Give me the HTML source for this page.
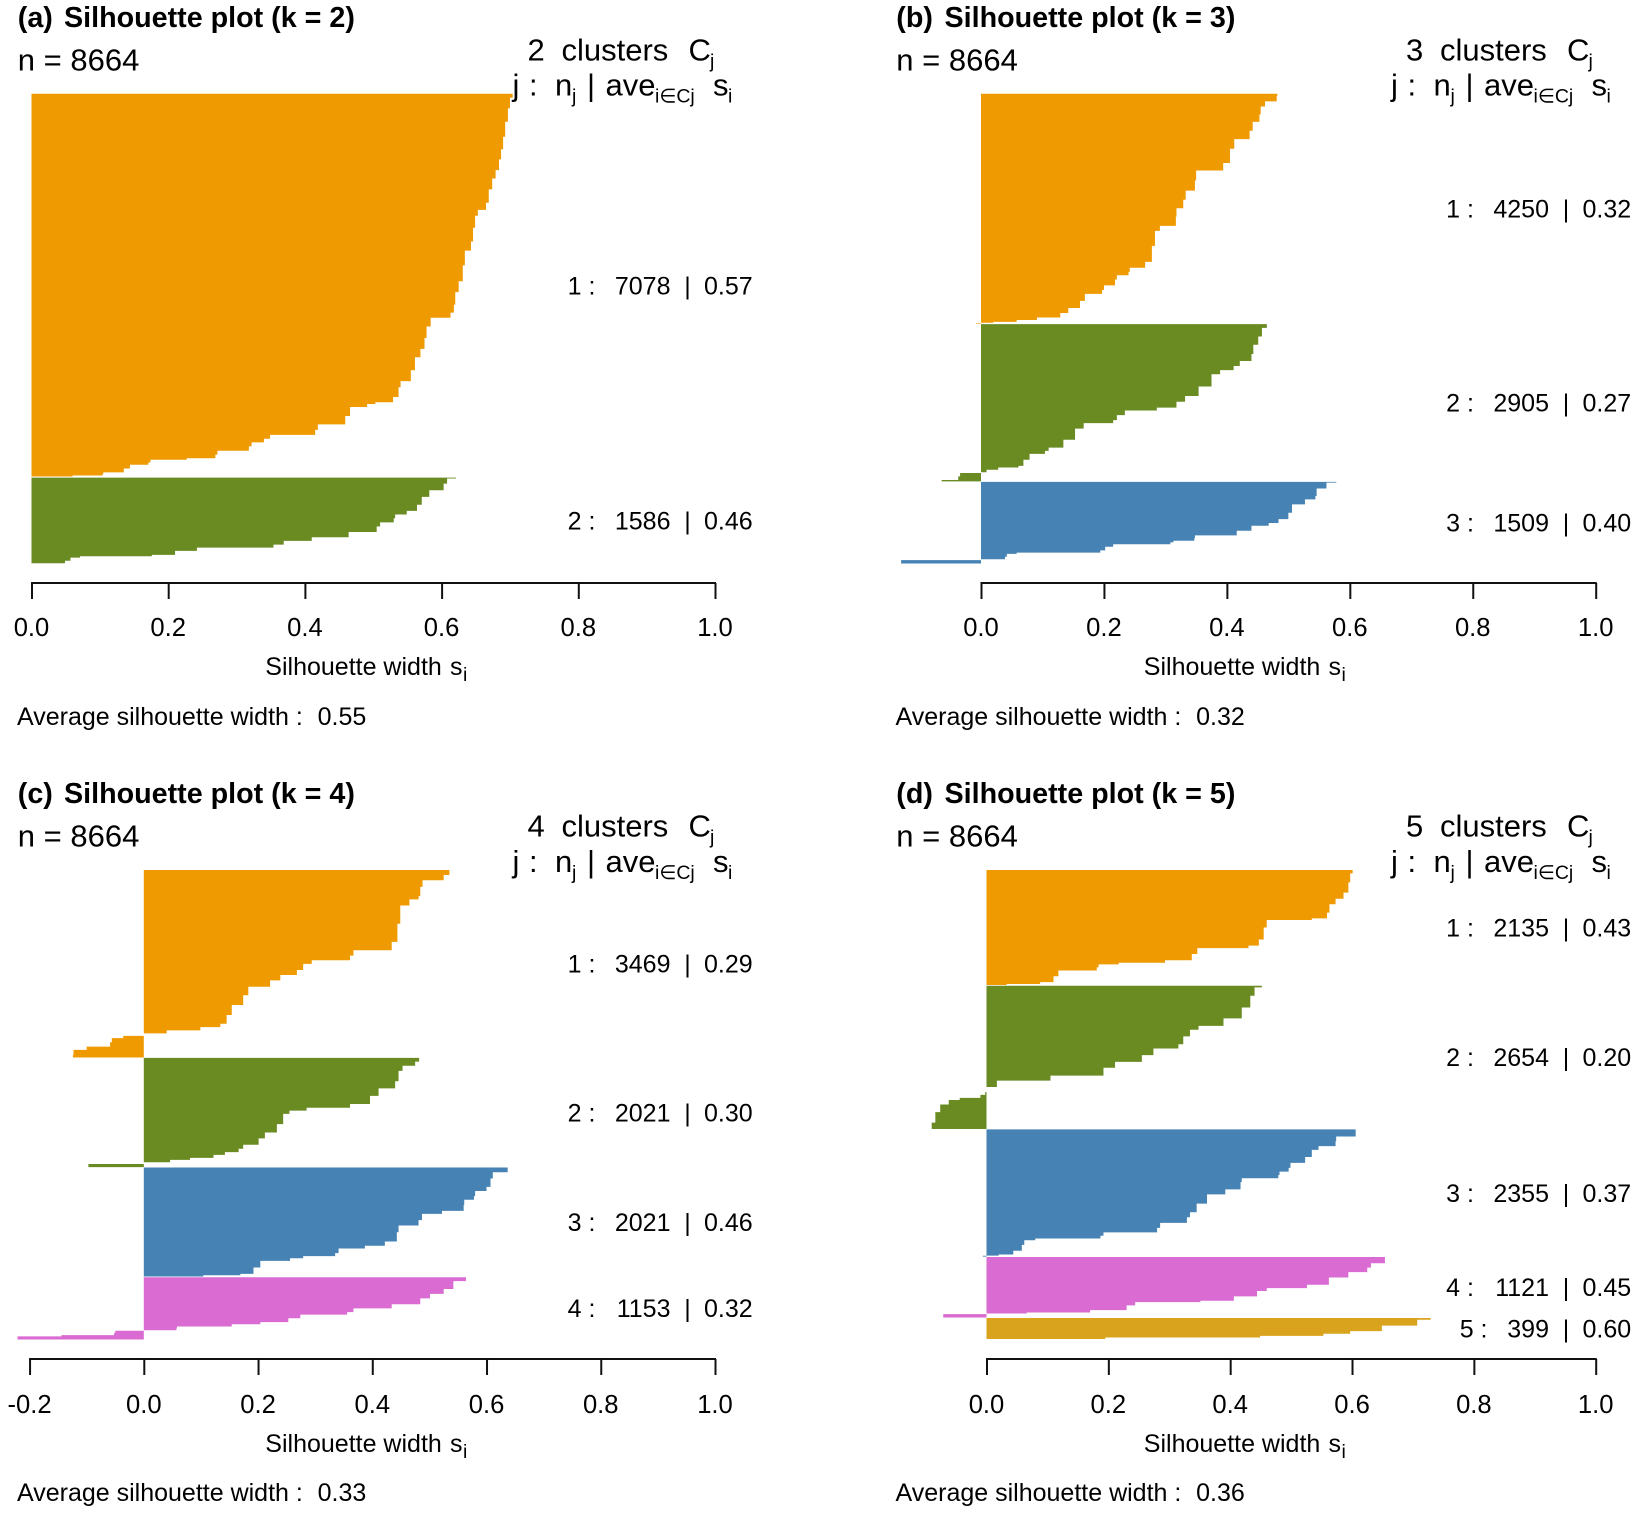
<!DOCTYPE html>
<html lang="en">
<head>
<meta charset="utf-8">
<title>Silhouette plots for k = 2 to 5</title>
<style>
html,body{margin:0;padding:0;background:#fff;}
svg{display:block;}
text{font-family:"Liberation Sans",sans-serif;fill:#000;}
.title{font-size:28.7px;font-weight:bold;}
.big{font-size:31px;}
.sub{font-size:19.5px;}
.mid{font-size:25px;}
.tick{font-size:25.6px;}
</style>
</head>
<body>
<svg id="figure" width="1638" height="1513" viewBox="0 0 1638 1513" xmlns="http://www.w3.org/2000/svg">
  <g id="marks-a"></g>
  <g id="marks-b"></g>
  <g id="marks-c"></g>
  <g id="marks-d"></g>

  <g>
    <text class="title" x="17.8" y="27">(a)<tspan x="64">Silhouette plot (k = 2)</tspan></text>
    <text class="big" x="17.8" y="70.5">n = 8664</text>
    <text class="big" x="527.5" y="60.5">2<tspan x="561.5">clusters</tspan><tspan x="688.5">C</tspan><tspan class="sub" x="710" dy="7">j</tspan></text>
    <text class="big" x="512.5" y="95.5">j<tspan x="529">:</tspan><tspan x="555">n</tspan><tspan class="sub" x="572" dy="7">j</tspan><tspan x="587" dy="-7">|</tspan><tspan x="605.5">ave</tspan><tspan class="sub" x="655" dy="7">i∈Cj</tspan><tspan x="713" dy="-7">s</tspan><tspan class="sub" x="728" dy="7">i</tspan></text>
    <text class="mid" x="265.3" y="675">Silhouette width<tspan x="450">s</tspan><tspan class="sub" x="463" dy="6">i</tspan></text>
    <text class="mid" x="17" y="725">Average silhouette width :<tspan x="317.6">0.55</tspan></text>
  </g>

  <g transform="translate(878.5,0)">
    <text class="title" x="17.8" y="27">(b)<tspan x="66">Silhouette plot (k = 3)</tspan></text>
    <text class="big" x="17.8" y="70.5">n = 8664</text>
    <text class="big" x="527.5" y="60.5">3<tspan x="561.5">clusters</tspan><tspan x="688.5">C</tspan><tspan class="sub" x="710" dy="7">j</tspan></text>
    <text class="big" x="512.5" y="95.5">j<tspan x="529">:</tspan><tspan x="555">n</tspan><tspan class="sub" x="572" dy="7">j</tspan><tspan x="587" dy="-7">|</tspan><tspan x="605.5">ave</tspan><tspan class="sub" x="655" dy="7">i∈Cj</tspan><tspan x="713" dy="-7">s</tspan><tspan class="sub" x="728" dy="7">i</tspan></text>
    <text class="mid" x="265.3" y="675">Silhouette width<tspan x="450">s</tspan><tspan class="sub" x="463" dy="6">i</tspan></text>
    <text class="mid" x="17" y="725">Average silhouette width :<tspan x="317.6">0.32</tspan></text>
  </g>

  <g transform="translate(0,776)">
    <text class="title" x="17.8" y="27">(c)<tspan x="64">Silhouette plot (k = 4)</tspan></text>
    <text class="big" x="17.8" y="70.5">n = 8664</text>
    <text class="big" x="527.5" y="60.5">4<tspan x="561.5">clusters</tspan><tspan x="688.5">C</tspan><tspan class="sub" x="710" dy="7">j</tspan></text>
    <text class="big" x="512.5" y="96">j<tspan x="529">:</tspan><tspan x="555">n</tspan><tspan class="sub" x="572" dy="7">j</tspan><tspan x="587" dy="-7">|</tspan><tspan x="605.5">ave</tspan><tspan class="sub" x="655" dy="7">i∈Cj</tspan><tspan x="713" dy="-7">s</tspan><tspan class="sub" x="728" dy="7">i</tspan></text>
    <text class="mid" x="265.3" y="676">Silhouette width<tspan x="450">s</tspan><tspan class="sub" x="463" dy="6">i</tspan></text>
    <text class="mid" x="17" y="725">Average silhouette width :<tspan x="317.6">0.33</tspan></text>
  </g>

  <g transform="translate(878.5,776)">
    <text class="title" x="17.8" y="27">(d)<tspan x="66">Silhouette plot (k = 5)</tspan></text>
    <text class="big" x="17.8" y="70.5">n = 8664</text>
    <text class="big" x="527.5" y="60.5">5<tspan x="561.5">clusters</tspan><tspan x="688.5">C</tspan><tspan class="sub" x="710" dy="7">j</tspan></text>
    <text class="big" x="512.5" y="96">j<tspan x="529">:</tspan><tspan x="555">n</tspan><tspan class="sub" x="572" dy="7">j</tspan><tspan x="587" dy="-7">|</tspan><tspan x="605.5">ave</tspan><tspan class="sub" x="655" dy="7">i∈Cj</tspan><tspan x="713" dy="-7">s</tspan><tspan class="sub" x="728" dy="7">i</tspan></text>
    <text class="mid" x="265.3" y="676">Silhouette width<tspan x="450">s</tspan><tspan class="sub" x="463" dy="6">i</tspan></text>
    <text class="mid" x="17" y="725">Average silhouette width :<tspan x="317.6">0.36</tspan></text>
  </g>
</svg>

<script>
// ---- values ----
const clusterSizesA = [7078, 1586];
const clusterSizesB = [4250, 2905, 1509];
const clusterSizesC = [3469, 2021, 2021, 1153];
const clusterSizesD = [2135, 2654, 2355, 1121, 399];

const clusterAveragesA = ["0.57", "0.46"];
const clusterAveragesB = ["0.32", "0.27", "0.40"];
const clusterAveragesC = ["0.29", "0.30", "0.46", "0.32"];
const clusterAveragesD = ["0.43", "0.20", "0.37", "0.45", "0.60"];

const ticksA = [0, 0.2, 0.4, 0.6, 0.8, 1];
const ticksB = [0, 0.2, 0.4, 0.6, 0.8, 1];
const ticksC = [-0.2, 0, 0.2, 0.4, 0.6, 0.8, 1];
const ticksD = [0, 0.2, 0.4, 0.6, 0.8, 1];

// Panel (a): observation rank within cluster, silhouette width at that rank
const rankA1 = [0,148,395,641,949,1104,1319,1504,1628,1905,2121,2170,2337,2614,2842,2953,3385,3539,3785,4001,4081,4192,4402,4618,4803,4926,5283,5327,5512,5684,5709,5746,5820,6079,6128,6282,6313,6424,6449,6572,6609,6714,6745,6769,6843,6856,6979,7003,7040,7053,7078];
const silA1 = [.704,.700,.697,.693,.690,.687,.684,.679,.674,.669,.665,.653,.649,.646,.643,.634,.631,.625,.620,.618,.613,.584,.578,.575,.569,.561,.555,.540,.537,.529,.503,.491,.466,.459,.419,.415,.349,.340,.322,.318,.272,.269,.227,.174,.171,.144,.135,.105,.104,.060,0];
const rankA2 = [0,36,188,280,432,572,657,705,797,857,949,1058,1143,1192,1283,1301,1405,1447,1459,1496,1575,1586];
const silA2 = [.621,.608,.603,.582,.571,.564,.549,.532,.530,.510,.505,.464,.410,.369,.354,.242,.210,.176,.071,.057,.049,0];

// Panel (b)
const rankB1 = [0,87,198,273,489,551,818,861,1171,1388,1450,1759,1821,2100,2131,2410,2472,2596,3029,3184,3246,3339,3370,3494,3587,3667,3729,3928,3990,4113,4157,4206,4225,4238,4240,4250];
const silB1 = [.482,.481,.462,.455,.453,.442,.437,.412,.405,.394,.350,.348,.333,.329,.318,.317,.291,.283,.278,.267,.242,.240,.221,.218,.200,.197,.169,.161,.142,.129,.091,.058,.020,0,-.008,-.008];
const rankB2 = [0,135,320,443,659,702,843,855,997,1305,1348,1520,1563,1625,1736,1810,1847,2013,2259,2302,2382,2413,2597,2640,2659,2720,2751,2751,2874,2886,2905];
const silB2 = [.465,.457,.451,.443,.440,.421,.411,.389,.375,.354,.332,.318,.286,.234,.221,.215,.167,.153,.134,.110,.104,.079,.069,.061,.028,.009,0,-.034,-.037,-.064,-.064];
const rankB3 = [0,31,216,309,340,494,649,729,791,834,976,1001,1082,1094,1143,1162,1236,1298,1316,1347,1422,1440,1452,1509];
const silB3 = [.578,.562,.546,.544,.527,.506,.500,.484,.468,.440,.416,.348,.347,.313,.308,.215,.202,.194,.058,.042,.039,0,-.130,-.130];

// Panel (c)
const rankC1 = [0,184,196,428,538,551,765,1224,1438,1530,1640,1701,1774,1927,1958,2129,2190,2447,2551,2814,2876,2937,2998,3047,3090,3133,3243,3292,3365,3469];
const silC1 = [.535,.525,.488,.484,.481,.465,.449,.444,.434,.367,.361,.294,.279,.268,.239,.221,.183,.174,.154,.145,.134,.099,.040,0,-.036,-.056,-.059,-.100,-.123,-.124];
const rankC2 = [0,137,156,323,541,585,821,883,964,989,1082,1368,1393,1586,1629,1735,1754,1835,1866,1909,1953,1972,2021];
const silC2 = [.482,.475,.453,.446,.440,.411,.396,.361,.285,.255,.244,.233,.212,.201,.174,.166,.142,.122,.081,.046,0,-.097,-.097];
const rankC3 = [0,81,93,311,404,466,591,603,778,827,889,1057,1088,1306,1431,1462,1536,1630,1648,1711,1742,1959,1978,2009,2021];
const silC3 = [.637,.637,.611,.607,.600,.580,.578,.561,.560,.522,.487,.481,.446,.443,.422,.387,.341,.335,.279,.256,.204,.192,.169,.104,0];
const rankC4 = [0,147,288,331,454,546,607,687,699,822,840,901,926,975,987,993,1067,1079,1110,1153];
const silC4 = [.564,.542,.525,.501,.484,.434,.367,.356,.274,.253,.204,.154,.058,.057,0,-.050,-.052,-.144,-.221,-.221];

// Panel (d)
const rankD1 = [0,123,337,503,564,706,871,920,933,1196,1380,1423,1472,1638,1706,1730,1767,1840,1883,2055,2098,2123,2135];
const silD1 = [.601,.597,.594,.586,.573,.563,.559,.534,.460,.455,.447,.430,.346,.337,.293,.217,.184,.181,.118,.110,.088,.033,0];
const rankD2 = [0,62,310,496,713,775,856,1023,1147,1178,1395,1426,1612,1717,1798,1953,1984,2058,2096,2139,2263,2418,2654];
const silD2 = [.452,.440,.433,.419,.389,.348,.334,.323,.315,.274,.255,.211,.192,.105,.017,0,-.002,-.010,-.044,-.062,-.076,-.084,-.090];
const rankD3 = [0,124,136,298,322,434,589,651,775,787,899,911,1042,1178,1228,1519,1550,1705,1755,1891,1922,2015,2027,2077,2201,2294,2337,2337,2343,2355];
const silD3 = [.606,.606,.574,.573,.545,.534,.523,.499,.496,.481,.479,.419,.417,.392,.362,.345,.334,.329,.285,.280,.192,.187,.080,.062,.058,.044,.020,0,-.006,-.006];
const rankD4 = [0,106,125,268,293,467,561,592,667,791,829,841,953,1015,1040,1053,1065,1121];
const silD4 = [.654,.654,.631,.625,.594,.562,.526,.460,.444,.406,.351,.244,.230,.170,.066,0,-.071,-.071];
const rankD5 = [0,64,219,270,315,347,379,399];
const silD5 = [.729,.707,.649,.597,.553,.449,.195,0];

const clusterColors = ["#EE9A00", "#698B22", "#4682B4", "#D96BD2", "#D9A31D"];

// ---- panel wiring (layout only) ----
const panels = [
  {id:"a", sizes:clusterSizesA, aves:clusterAveragesA, ticks:ticksA, ranks:[rankA1,rankA2], sils:[silA1,silA2], zero:31.5, one:715, top:93.7, bottom:563.5, axisY:583, labelDy:53, textDx:0},
  {id:"b", sizes:clusterSizesB, aves:clusterAveragesB, ticks:ticksB, ranks:[rankB1,rankB2,rankB3], sils:[silB1,silB2,silB3], zero:981, one:1595.7, top:93.7, bottom:563.5, axisY:583, labelDy:53, textDx:878.5},
  {id:"c", sizes:clusterSizesC, aves:clusterAveragesC, ticks:ticksC, ranks:[rankC1,rankC2,rankC3,rankC4], sils:[silC1,silC2,silC3,silC4], zero:143.8, one:715, top:870, bottom:1339.5, axisY:1359, labelDy:54, textDx:0},
  {id:"d", sizes:clusterSizesD, aves:clusterAveragesD, ticks:ticksD, ranks:[rankD1,rankD2,rankD3,rankD4,rankD5], sils:[silD1,silD2,silD3,silD4,silD5], zero:986.5, one:1595.7, top:870, bottom:1339.5, axisY:1359, labelDy:54, textDx:878.5}
];

const SVG_NS = "http://www.w3.org/2000/svg";
const GAP_OBS = 8;
const TICK_LEN = 16;

function xScale(p, v) { return p.zero + v * (p.one - p.zero); }
function yScale(p, obs) {
  const total = p.sizes.reduce(function (a, b) { return a + b; }, 0) + GAP_OBS * (p.sizes.length - 1);
  return p.top + obs * (p.bottom - p.top) / total;
}
function make(tag, parent) {
  const el = document.createElementNS(SVG_NS, tag);
  parent.appendChild(el);
  return el;
}

panels.forEach(function (p) {
  const root = document.getElementById("marks-" + p.id);
  let start = 0;

  p.sizes.forEach(function (size, c) {
    const ranks = p.ranks[c];
    const sils = p.sils[c];
    const pts = [[xScale(p, 0), yScale(p, start)]];
    ranks.forEach(function (r, i) {
      if (i > 0) {
        // stepped outline: jog at the rank midway between readings
        const midRank = (ranks[i - 1] + r) / 2;
        pts.push([xScale(p, sils[i - 1]), yScale(p, start + midRank)]);
        pts.push([xScale(p, sils[i]), yScale(p, start + midRank)]);
      }
      pts.push([xScale(p, sils[i]), yScale(p, start + r)]);
    });
    pts.push([xScale(p, 0), yScale(p, start + size)]);

    const poly = make("polygon", root);
    poly.setAttribute("points", pts.map(function (q) { return q[0].toFixed(2) + "," + q[1].toFixed(2); }).join(" "));
    poly.setAttribute("fill", clusterColors[c]);
    
    

    // Row label sits at the vertical midpoint of the cluster
    const midY = (yScale(p, start) + yScale(p, start + size)) / 2 + 8.9;
    const digits = String(size).length;
    const nEnd = 670.5 + p.textDx;

    const jLabel = make("text", root);
    jLabel.setAttribute("class", "mid");
    jLabel.setAttribute("x", nEnd - digits * 13.6 - 48.5);
    jLabel.setAttribute("y", midY);
    jLabel.textContent = (c + 1) + " :";
    
    

    const nLabel = make("text", root);
    nLabel.setAttribute("class", "mid");
    nLabel.setAttribute("x", nEnd);
    nLabel.setAttribute("y", midY);
    nLabel.setAttribute("text-anchor", "end");
    nLabel.textContent = String(size);
    
    

    const sepLabel = make("text", root);
    sepLabel.setAttribute("class", "mid");
    sepLabel.setAttribute("x", nEnd + 17);
    sepLabel.setAttribute("y", midY);
    sepLabel.setAttribute("text-anchor", "middle");
    sepLabel.textContent = "|";
    
    

    const aveLabel = make("text", root);
    aveLabel.setAttribute("class", "mid");
    aveLabel.setAttribute("x", nEnd + 33.5);
    aveLabel.setAttribute("y", midY);
    aveLabel.textContent = p.aves[c];
    
    

    start += size + GAP_OBS;
  });

  const axis = make("line", root);
  axis.setAttribute("x1", xScale(p, p.ticks[0]) + 0.5);
  axis.setAttribute("x2", xScale(p, p.ticks[p.ticks.length - 1]));
  axis.setAttribute("y1", p.axisY);
  axis.setAttribute("y2", p.axisY);
  axis.setAttribute("stroke", "#111");
  axis.setAttribute("stroke-width", "2");
  axis.setAttribute("stroke-linecap", "square");
  
  

  p.ticks.forEach(function (t) {
    const tick = make("line", root);
    tick.setAttribute("x1", xScale(p, t) + 0.5);
    tick.setAttribute("x2", xScale(p, t) + 0.5);
    tick.setAttribute("y1", p.axisY);
    tick.setAttribute("y2", p.axisY + TICK_LEN);
    tick.setAttribute("stroke", "#111");
    tick.setAttribute("stroke-width", "2");
    
    

    const label = make("text", root);
    label.setAttribute("class", "tick");
    label.setAttribute("x", xScale(p, t));
    label.setAttribute("y", p.axisY + p.labelDy);
    label.setAttribute("text-anchor", "middle");
    label.textContent = t.toFixed(1);
    
    
  });
});
</script>
</body>
</html>
